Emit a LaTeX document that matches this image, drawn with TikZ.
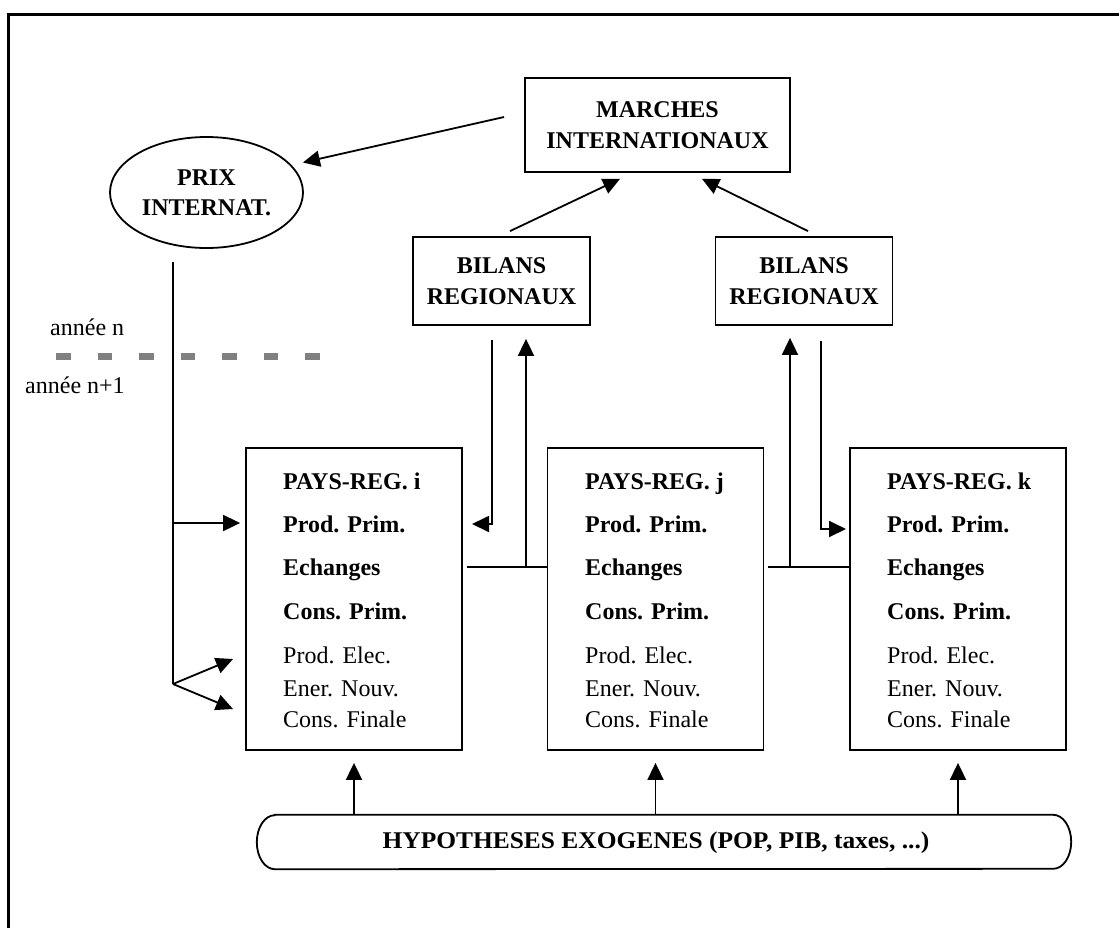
\documentclass[tikz,border=0pt]{standalone}
\usepackage{fontspec}
\setmainfont{Liberation Serif}
\usetikzlibrary{arrows.meta,calc,shapes.geometric}
\definecolor{dashgray}{HTML}{808080}
\begin{document}
\begin{tikzpicture}[x=1pt,y=-1pt,
  every node/.style={font=\fontsize{24}{30}\selectfont, inner sep=0pt},
  ln/.style={line width=1.8pt},
  arr/.style={ln,-{Triangle[length=17pt,width=16pt]}},
  box/.style={draw,ln,rectangle},
  bf/.style={font=\fontsize{24}{31}\selectfont\bfseries},
  rg/.style={font=\fontsize{24}{30}\selectfont}
]
\useasboundingbox (0,0) rectangle (1119,927);
% outer frame
\draw[line width=2.2pt] (8.5,940) -- (8.5,14.5);
\draw[line width=3pt] (7.4,14.5) -- (1130,14.5);

% top nodes
\node[box,bf,align=center,minimum width=265pt,minimum height=94pt] (marches) at (657.5,125) {MARCHES\\INTERNATIONAUX};
\node[draw,ln,ellipse,align=center,minimum width=193pt,minimum height=111pt,font=\fontsize{24}{30}\selectfont\bfseries] (prix) at (206.5,192.5) {PRIX\\INTERNAT.};
\node[box,bf,align=center,minimum width=177pt,minimum height=88pt] (bL) at (501.5,281) {BILANS\\REGIONAUX};
\node[box,bf,align=center,minimum width=177pt,minimum height=88pt] (bR) at (804,281) {BILANS\\REGIONAUX};

% year labels and separator
\node[rg,anchor=base west] (an) at (50,335) {année n};
\node[rg,anchor=base west] (an1) at (25,393) {année n+1};
\coordinate (ds) at (56,356);
\coordinate (de) at (320,356);
\draw[dashgray,line width=7pt,dash pattern=on 14.5pt off 27pt] (ds) -- (de);

% country boxes
\node[box,minimum width=216pt,minimum height=302pt] (pi) at (354,599) {};
\node[box,minimum width=216pt,minimum height=302pt] (pj) at (655.5,599) {};
\node[box,minimum width=216pt,minimum height=302pt] (pk) at (958,599) {};
\foreach \x/\n/\s in {283/i/pi,585/j/pj,887/k/pk}{
  \node[bf,anchor=base west] (\s-1) at (\x,489) {PAYS-REG. \n};
  \node[bf,anchor=base west] (\s-2) at (\x,532) {Prod. Prim.};
  \node[bf,anchor=base west] (\s-3) at (\x,575) {Echanges};
  \node[bf,anchor=base west] (\s-4) at (\x,619) {Cons. Prim.};
  \node[rg,anchor=base west] (\s-5) at (\x,663) {Prod. Elec.};
  \node[rg,anchor=base west] (\s-6) at (\x,696) {Ener. Nouv.};
  \node[rg,anchor=base west] (\s-7) at (\x,727) {Cons. Finale};
}

% hypotheses
\node[minimum width=814pt,minimum height=54pt] (hyp) at (664,842) {};
\node[bf] (hypt) at (656,843) {\scalebox{1.06}[1]{HYPOTHESES EXOGENES (POP, PIB, taxes, ...)}};
\draw[ln] ($(hyp.north west)+(18,0)$) -- ($(hyp.north east)+(-18,0)$)
  arc[start angle=90,end angle=-90,x radius=18pt,y radius=27pt]
  -- ($(hyp.south west)+(18,0)$)
  arc[start angle=270,end angle=90,x radius=18pt,y radius=27pt] -- cycle;

% arrows top
\draw[arr] ($(marches.west)+(-20,-8)$) -- ($(prix.east)+(-1,-30)$);
\draw[arr] ($(bL.north)+(8.5,-5)$) -- ($(marches.south)+(-37.5,6)$);
\draw[arr] ($(bR.north)+(4,-5)$) -- ($(marches.south)+(44.5,6)$);

% price line to left box
\coordinate (pv) at (173,262);
\coordinate (pm) at (173,523);
\coordinate (pb) at (173,684);
\draw[ln] (pv) -- (pb);
\draw[arr] (pm) -- ($(pi.west |- pm)+(-5,0)$);
\draw[arr] (pb) -- ($(pb)+(60,-25)$);
\draw[arr] (pb) -- ($(pb)+(60,25)$);

% left bilans connections
\coordinate (dL) at (492,340);
\coordinate (dLe) at (472,524);
\draw[arr] (dL) |- (dLe);
\coordinate (hL) at (467,567);
\draw[ln] (hL) -- (hL -| pj.west);
\coordinate (uL) at (526,567);
\draw[arr] (uL) -- ($(uL |- bL.south)+(0,13)$);

% right bilans connections
\coordinate (hR) at (768,567);
\draw[ln] (hR) -- (hR -| pk.west);
\coordinate (uR) at (790,567);
\draw[arr] (uR) -- ($(uR |- bR.south)+(0,12)$);
\coordinate (dR) at (821,341);
\coordinate (dRe) at (846,529);
\draw[arr] (dR) |- (dRe);

% hypotheses arrows
\foreach \b in {pi,pj,pk}{
  \draw[arr] (\b.south |- hyp.north) -- ($(\b.south)+(0,12)$);
}
\end{tikzpicture}
\end{document}
